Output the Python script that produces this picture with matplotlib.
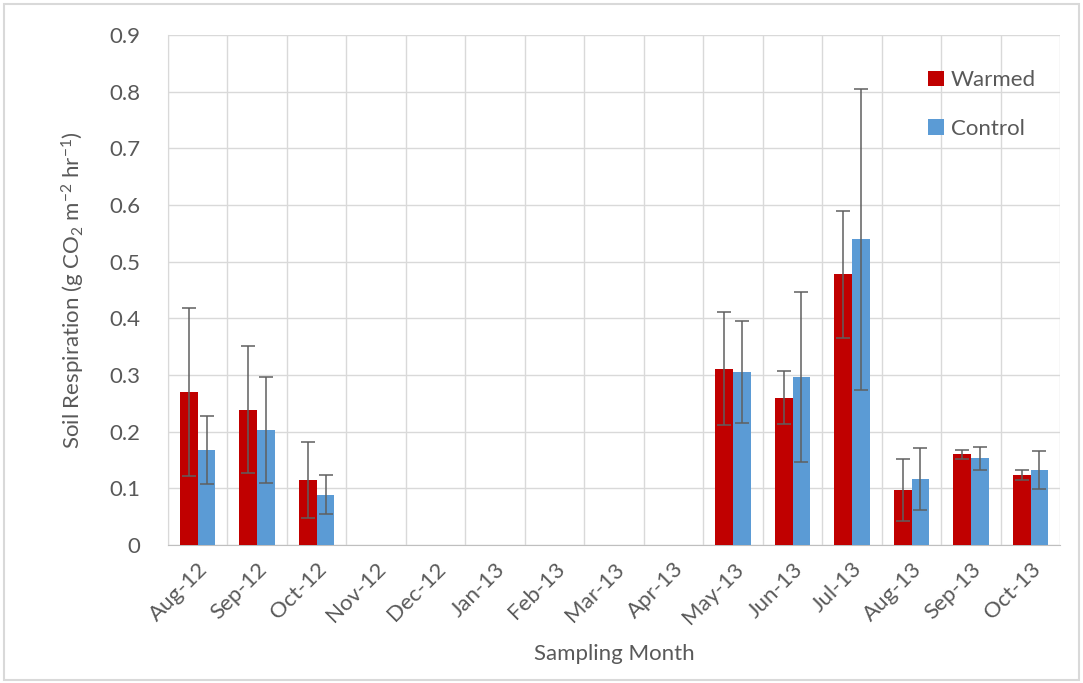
import numpy as np
import matplotlib.pyplot as plt
from matplotlib.patches import Rectangle

# Дані
months = ['Aug-12', 'Sep-12', 'Oct-12', 'Nov-12', 'Dec-12', 'Jan-13', 'Feb-13',
          'Mar-13', 'Apr-13', 'May-13', 'Jun-13', 'Jul-13', 'Aug-13', 'Sep-13', 'Oct-13']
nan = np.nan
warmed = [0.270, 0.239, 0.114, nan, nan, nan, nan, nan, nan, 0.311, 0.260, 0.478, 0.097, 0.160, 0.123]
warmed_err = [0.148, 0.112, 0.067, nan, nan, nan, nan, nan, nan, 0.100, 0.047, 0.112, 0.054, 0.008, 0.009]
control = [0.167, 0.203, 0.089, nan, nan, nan, nan, nan, nan, 0.305, 0.296, 0.539, 0.116, 0.153, 0.132]
control_err = [0.060, 0.094, 0.034, nan, nan, nan, nan, nan, nan, 0.090, 0.150, 0.265, 0.055, 0.020, 0.034]

plt.rcParams['font.family'] = ['Lato', 'DejaVu Sans']
plt.rcParams['mathtext.fontset'] = 'custom'
plt.rcParams['mathtext.rm'] = 'Lato'
grey = '#595959'

fig = plt.figure(figsize=(10.83, 6.83), dpi=100)
ax = fig.add_axes([0.155, 0.202, 0.824, 0.747])

x = np.arange(len(months))
w = 0.3
ekw = dict(ecolor='#5F5F5F', elinewidth=1.1, capsize=5, capthick=1.1)
ax.bar(x - w / 2, warmed, w, yerr=warmed_err, color='#C00000', label='Warmed', error_kw=ekw, zorder=3)
ax.bar(x + w / 2, control, w, yerr=control_err, color='#5B9BD5', label='Control', error_kw=ekw, zorder=3)

ax.set_xlim(-0.5, len(months) - 0.5)
ax.set_ylim(0, 0.9)
ax.set_yticks(np.arange(0, 0.91, 0.1))
ax.set_yticklabels(['0'] + ['%.1f' % v for v in np.arange(0.1, 0.91, 0.1)])
ax.set_xticks(x)
ax.set_xticklabels(months, rotation=45, ha='right', rotation_mode='anchor')
ax.set_xticks(np.arange(-0.5, len(months)), minor=True)
ax.grid(True, which='minor', axis='x', color='#D9D9D9', lw=1, zorder=0)
ax.grid(True, which='major', axis='y', color='#D9D9D9', lw=1, zorder=0)
ax.tick_params(axis='both', which='both', length=0, labelcolor=grey)
ax.tick_params(axis='y', labelsize=16, pad=20)
ax.tick_params(axis='x', labelsize=16, pad=10)
for s in ['top', 'right']:
    ax.spines[s].set_visible(False)
ax.spines['left'].set_color('#D9D9D9')
ax.spines['bottom'].set_color('#BFBFBF')

ax.set_xlabel('Sampling Month', color=grey, fontsize=16, labelpad=12)
ax.set_ylabel(r'Soil Respiration (g CO$\mathregular{_2}$ m$\mathregular{^{-2}}$ hr$\mathregular{^{-1}}$)',
              color=grey, fontsize=16, labelpad=16)

leg = ax.legend(loc='upper right', bbox_to_anchor=(0.995, 0.97), frameon=False, fontsize=16,
                handlelength=0.7, handleheight=0.7, handletextpad=0.3, labelspacing=1.3)
for t in leg.get_texts():
    t.set_color(grey)

fig.patches.append(Rectangle((0.004, 0.004), 0.992, 0.99, transform=fig.transFigure,
                             fill=False, edgecolor='#D9D9D9', lw=1.5))

fig.savefig('out.png', dpi=100)
